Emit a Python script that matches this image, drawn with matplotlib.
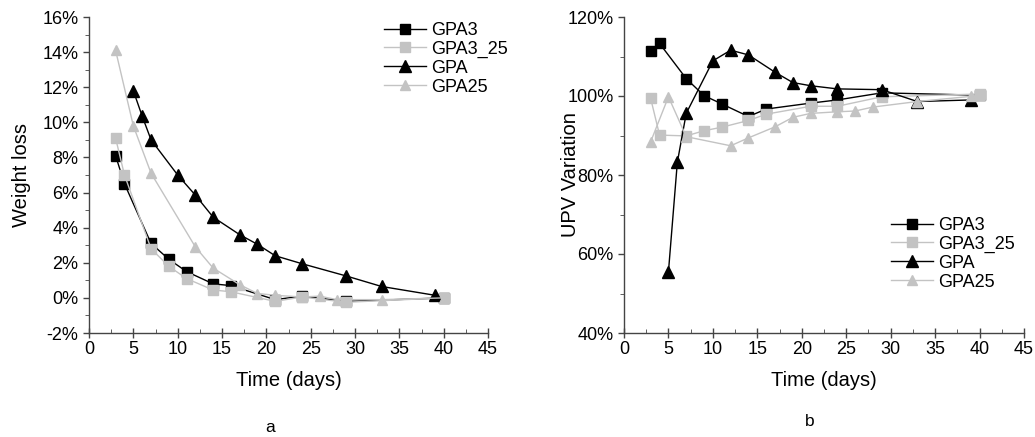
import matplotlib
matplotlib.use("Agg")
import matplotlib.pyplot as plt
from matplotlib.ticker import MultipleLocator, FuncFormatter

plt.rcParams['font.family'] = ['Liberation Sans', 'DejaVu Sans']

# ---- Panel a: weight loss (%) ----
wl_days_gpa3 = [3, 4, 7, 9, 11, 14, 16, 21, 24, 29, 40]
wl_gpa3 = [8.1, 6.5, 3.1, 2.2, 1.5, 0.8, 0.7, -0.1, 0.1, -0.2, 0.0]
wl_days_gpa3_25 = [3, 4, 7, 9, 11, 14, 16, 21, 24, 29, 40]
wl_gpa3_25 = [9.1, 7.0, 2.8, 1.8, 1.1, 0.45, 0.35, -0.2, 0.05, -0.25, 0.0]
wl_days_gpa = [5, 6, 7, 10, 12, 14, 17, 19, 21, 24, 29, 33, 39]
wl_gpa = [11.8, 10.35, 9.0, 7.0, 5.85, 4.6, 3.6, 3.05, 2.4, 1.95, 1.25, 0.65, 0.15]
wl_days_gpa25 = [3, 5, 7, 12, 14, 17, 19, 21, 24, 26, 28, 33, 40]
wl_gpa25 = [14.1, 9.8, 7.1, 2.9, 1.7, 0.75, 0.25, 0.15, 0.05, 0.1, -0.1, -0.1, 0.0]

# ---- Panel b: UPV variation (%) ----
upv_days_gpa3 = [3, 4, 7, 9, 11, 14, 16, 21, 24, 29, 40]
upv_gpa3 = [111.4, 113.3, 104.4, 100.1, 98.0, 94.8, 96.7, 98.2, 99.0, 100.8, 100.2]
upv_days_gpa3_25 = [3, 4, 7, 9, 11, 14, 16, 21, 24, 29, 40]
upv_gpa3_25 = [99.4, 90.1, 89.9, 91.2, 92.1, 93.8, 95.4, 97.4, 97.4, 99.8, 100.5]
upv_days_gpa = [5, 6, 7, 10, 12, 14, 17, 19, 21, 24, 29, 33, 39]
upv_gpa = [55.5, 83.2, 95.6, 108.9, 111.6, 110.4, 106.0, 103.4, 102.6, 101.8, 101.6, 98.6, 99.0]
upv_days_gpa25 = [3, 5, 7, 12, 14, 17, 19, 21, 24, 26, 28, 33, 39, 40]
upv_gpa25 = [88.4, 99.8, 89.7, 87.4, 89.4, 92.2, 94.6, 95.6, 96.0, 96.2, 97.2, 98.6, 99.9, 100.3]

labels = ["GPA3", "GPA3_25", "GPA", "GPA25"]

GRAY = "#c3c3c3"
styles = [
    dict(color="black", marker="s", markersize=7, lw=1.0),
    dict(color=GRAY, marker="s", markersize=7, lw=1.0),
    dict(color="black", marker="^", markersize=8.5, lw=1.0),
    dict(color=GRAY, marker="^", markersize=7, lw=1.0),
]

W, H = 1035, 437
fig = plt.figure(figsize=(W / 100, H / 100), dpi=100)

def px_axes(x0, y0, x1, y1):
    return fig.add_axes([x0 / W, (H - y1) / H, (x1 - x0) / W, (y1 - y0) / H])

ax1 = px_axes(89, 17, 488, 333)
ax2 = px_axes(624, 17, 1024, 333)

pct = FuncFormatter(lambda v, p: f"{v:.0f}%")
spine_col = "#444444"

def style_axes(ax, ymin, ymax, ymaj, ymin_step, ylabel, ylab_x):
    ax.set_xlim(0, 45)
    ax.set_ylim(ymin, ymax)
    ax.xaxis.set_major_locator(MultipleLocator(5))
    ax.xaxis.set_minor_locator(MultipleLocator(2.5))
    ax.yaxis.set_major_locator(MultipleLocator(ymaj))
    ax.yaxis.set_minor_locator(MultipleLocator(ymin_step))
    ax.yaxis.set_major_formatter(pct)
    for s in ("top", "right"):
        ax.spines[s].set_visible(False)
    for s in ("left", "bottom"):
        ax.spines[s].set_color(spine_col)
        ax.spines[s].set_linewidth(1.0)
    ax.tick_params(axis="both", which="major", labelsize=13, color=spine_col,
                   direction="out", length=4, width=1)
    ax.tick_params(axis="x", which="major", direction="inout", length=7, pad=2)
    ax.tick_params(axis="x", which="minor", direction="in", length=3, color=spine_col)
    ax.tick_params(axis="y", which="minor", direction="out", length=3, color=spine_col)
    ax.set_xlabel("Time (days)", fontsize=14.5)
    ax.set_ylabel(ylabel, fontsize=14.5)
    ax.xaxis.set_label_coords(0.5, -(381 - 333) / 316, transform=ax.transAxes)
    ax.xaxis.label.set_va("center")
    ax.yaxis.set_label_coords(ylab_x, 0.5, transform=ax.transAxes)
    ax.yaxis.label.set_va("center")

series1 = [(wl_days_gpa3, wl_gpa3), (wl_days_gpa3_25, wl_gpa3_25),
           (wl_days_gpa, wl_gpa), (wl_days_gpa25, wl_gpa25)]
series2 = [(upv_days_gpa3, upv_gpa3), (upv_days_gpa3_25, upv_gpa3_25),
           (upv_days_gpa, upv_gpa), (upv_days_gpa25, upv_gpa25)]

for (x, y), lab, st in zip(series1, labels, styles):
    ax1.plot(x, y, label=lab, clip_on=False, **st)
for (x, y), lab, st in zip(series2, labels, styles):
    ax2.plot(x, y, label=lab, clip_on=False, **st)

style_axes(ax1, -2, 16, 2, 1, "Weight loss", (22 - 89) / 399)
style_axes(ax2, 40, 120, 20, 10, "UPV Variation", (570 - 624) / 400)

leg_kw = dict(frameon=False, fontsize=13, handlelength=2.3, handletextpad=0.3,
              labelspacing=0.1, borderpad=0, borderaxespad=0)
ax1.legend(loc="upper left", bbox_to_anchor=((384 - 89) / 399, (333 - 22) / 316), **leg_kw)
ax2.legend(loc="upper left", bbox_to_anchor=((891 - 624) / 400, (333 - 217) / 316), **leg_kw)

fig.text(270 / W, 1 - 427 / H, "a", fontsize=12.5, ha="center", va="center")
fig.text(810 / W, 1 - 421 / H, "b", fontsize=12.5, ha="center", va="center")

fig.savefig("out.png", dpi=100)
